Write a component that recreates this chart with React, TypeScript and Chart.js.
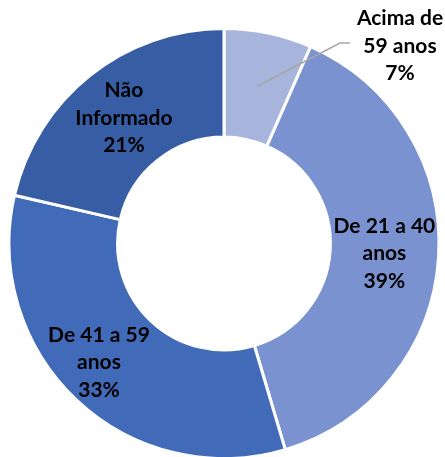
import React, { useEffect, useRef } from 'react';
import { Chart, registerables } from 'chart.js';

Chart.register(...registerables);

const categories: string[][] = [
  ['Acima de', '59 anos'],
  ['De 21 a 40', 'anos'],
  ['De 41 a 59', 'anos'],
  ['Não', 'Informado'],
];
const values: number[] = [6.6, 38.8, 33.2, 21.4];
const colors: string[] = ['#A7B5DC', '#7A92D0', '#416BB8', '#375DA4'];

const FONT = 'bold 21px Lato';
const LINE_H = 27.5;

const labelPlugin = {
  id: 'sliceLabels',
  afterDatasetsDraw(chart: any) {
    const ctx = chart.ctx as CanvasRenderingContext2D;
    const meta = chart.getDatasetMeta(0);
    const total = values.reduce((a, b) => a + b, 0);
    ctx.save();
    ctx.font = FONT;
    ctx.fillStyle = '#000000';
    ctx.textAlign = 'center';
    ctx.textBaseline = 'middle';
    meta.data.forEach((arc: any, i: number) => {
      const p = arc.tooltipPosition();
      const lines = [...categories[i], Math.round((values[i] / total) * 100) + '%'];
      let cx = p.x;
      let cy = p.y;
      if (i === 0) {
        const ox = arc.x;
        const oy = arc.y;
        const elbowX = ox + 116;
        const elbowY = oy - 200.5;
        ctx.save();
        ctx.strokeStyle = '#A6A6A6';
        ctx.lineWidth = 1.5;
        ctx.beginPath();
        ctx.moveTo(p.x, p.y);
        ctx.lineTo(elbowX, elbowY);
        ctx.lineTo(elbowX + 10, elbowY);
        ctx.stroke();
        ctx.restore();
        cx = ox + 176;
        cy = oy - 197.5;
      } else if (i === 2) {
        cx = p.x - 15;
        cy = p.y + 2;
      }
      const startY = cy - ((lines.length - 1) * LINE_H) / 2;
      lines.forEach((t, k) => {
        ctx.fillText(t, cx, startY + k * LINE_H);
      });
    });
    ctx.restore();
  },
};

export default function App() {
  const ref = useRef<HTMLCanvasElement | null>(null);
  useEffect(() => {
    if (!ref.current) return;
    const chart = new Chart(ref.current, {
      type: 'doughnut',
      data: {
        labels: categories.map((c) => c.join(' ')),
        datasets: [
          {
            data: values,
            backgroundColor: colors,
            borderColor: '#FFFFFF',
            borderWidth: 3,
          },
        ],
      },
      options: {
        responsive: false,
        animation: false,
        radius: 215,
        cutout: '49.5%',
        rotation: 0,
        layout: { padding: { left: 3, right: 0, top: 30, bottom: 0 } },
        plugins: {
          legend: { display: false },
          tooltip: { enabled: false },
        },
      } as any,
      plugins: [labelPlugin],
    });
    return () => chart.destroy();
  }, []);
  return (
    <div style={{ position: 'absolute', left: 0, top: 0, width: 445, height: 457, background: '#FFFFFF' }}>
      <canvas ref={ref} width={445} height={457} style={{ width: 445, height: 457 }} />
    </div>
  );
}
